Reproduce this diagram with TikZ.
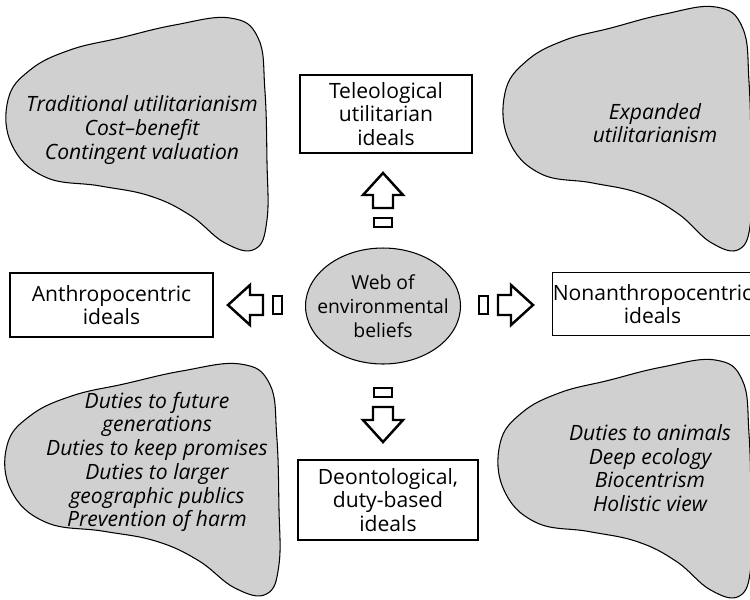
\documentclass[tikz,border=0pt]{standalone}
\usepackage{fontspec}
\setmainfont{Open Sans}
\usetikzlibrary{shapes.geometric}

\definecolor{blobgray}{RGB}{208,208,208}

% one blob, drawn in a box: left, top, width, height
\newcommand{\blob}[4]{%
  \begin{scope}[shift={(#1,#2)},xscale=#3,yscale=#4]
    \draw[blobline] plot[smooth cycle,tension=0.7] coordinates {
      (0.854,0) (0.962,0.086) (0.988,0.31) (0.996,0.612) (0.996,0.871)
      (0.95,0.996) (0.835,0.97) (0.7,0.85) (0.546,0.767) (0.354,0.724)
      (0.142,0.685) (0.015,0.547) (0,0.353) (0.085,0.224) (0.238,0.138)
      (0.43,0.086) (0.642,0.03)};
  \end{scope}}

% hollow arrow with its small bar: start, angle
\newcommand{\fatarrow}[3]{%
  \begin{scope}[shift={(#1,#2)},rotate=#3]
    \draw[arrowline] (0,-9) rectangle (9,9);
    \draw[arrowline] (19,-10) -- (32,-10) -- (32,-20) -- (54,0)
      -- (32,20) -- (32,10) -- (19,10) -- cycle;
  \end{scope}}

\begin{document}
\begin{tikzpicture}[x=0.02cm,y=-0.02cm,
    every node/.style={font=\fontsize{12}{13.5}\selectfont, align=center},
    blobline/.style={draw=black, fill=blobgray, line width=0.6pt},
    arrowline/.style={draw=black, line width=1.4pt, line join=miter},
    idealbox/.style={draw, line width=0.6pt, inner sep=0pt},
    blobtext/.style={font=\fontsize{12}{13.5}\selectfont\itshape},
    web/.style={ellipse, draw, fill=blobgray, line width=0.6pt,
                minimum width=3.1cm, minimum height=2.32cm, inner sep=0pt}]

\useasboundingbox (0,0) rectangle (750,599);

% the four blobs
\blob{8}{18}{260}{232}
\blob{505}{7}{247}{243}
\blob{7}{364}{273}{231}
\blob{500}{360}{252}{237}

\node[blobtext] (trad) at (142,130)
  {Traditional utilitarianism\\Cost--benefit\\Contingent valuation};
\node[blobtext] (expanded) at (655,123) {Expanded\\utilitarianism};
\node[blobtext] (duties) at (157,462)
  {Duties to future\\generations\\Duties to keep promises\\Duties to larger\\geographic publics\\Prevention of harm};
\node[blobtext] (animals) at (650,468)
  {Duties to animals\\Deep ecology\\Biocentrism\\Holistic view};

% centre and the four ideals
\node[web] (beliefs) at (383,306) {};
\node[font=\fontsize{11}{13.5}\selectfont] (beliefstext) at (beliefs.center)
  {Web of\\environmental\\beliefs};

\node[idealbox, minimum width=3.44cm, minimum height=1.56cm] (teleo) at (386,114)
  {Teleological\\utilitarian\\ideals};
\node[idealbox, minimum width=4.06cm, minimum height=1.28cm] (anthro) at (111.5,305)
  {Anthropocentric\\ideals};
\node[idealbox, minimum width=3.86cm, minimum height=1.26cm] (nonanthro) at (652.5,304)
  {Nonanthropocentric\\ideals};
\node[idealbox, minimum width=3.6cm, minimum height=1.6cm] (deonto) at (388,500)
  {Deontological,\\duty-based\\ideals};

% block arrows
\fatarrow{383}{227}{90}
\fatarrow{383}{388}{-90}
\fatarrow{282}{305}{180}
\fatarrow{479}{305}{0}

\end{tikzpicture}
\end{document}
